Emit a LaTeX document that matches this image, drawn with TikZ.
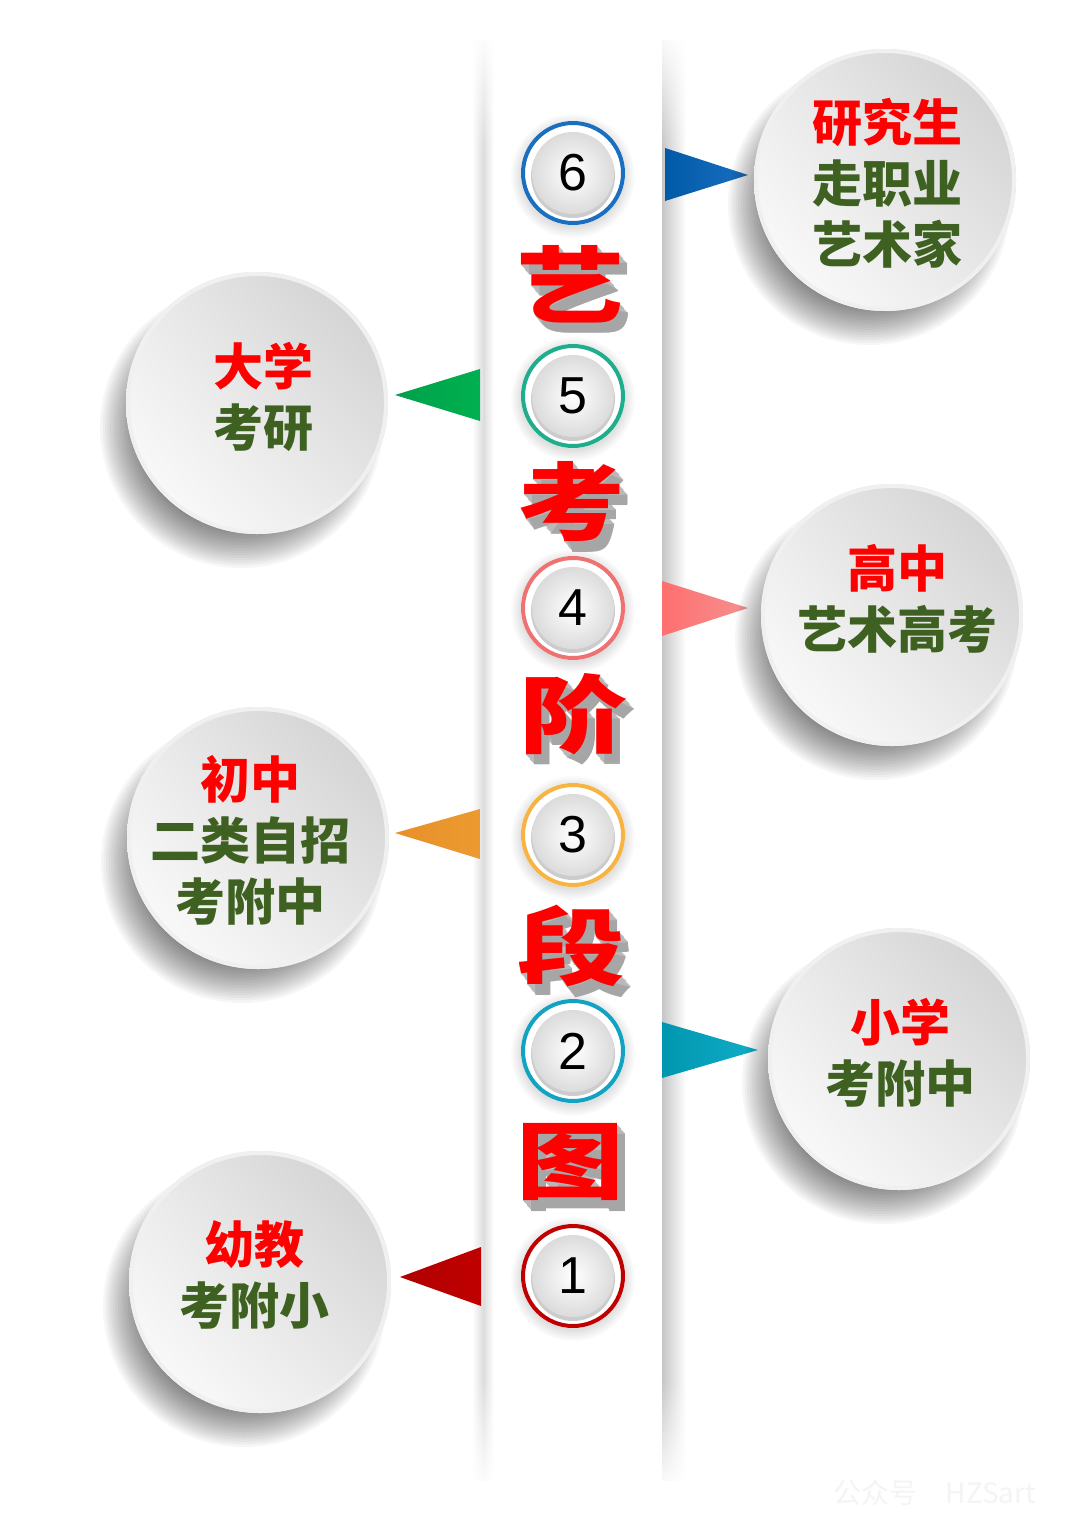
\documentclass[tikz,border=0pt]{standalone}
\usepackage{fontspec}
\usepackage{graphicx}
\setmainfont{Liberation Sans}
\newfontfamily\cjk{Noto Sans CJK SC}
\usetikzlibrary{fadings,shadings}
\definecolor{tgreen}{HTML}{3E6121}
\definecolor{tred}{HTML}{FF0000}
\definecolor{rblue}{HTML}{1A6FC0}
\definecolor{rgreen}{HTML}{1EAE8C}
\definecolor{rpink}{HTML}{EE7272}
\definecolor{rorange}{HTML}{F8B443}
\definecolor{rteal}{HTML}{13A3C2}
\definecolor{rdred}{HTML}{C00000}
\definecolor{pblueA}{HTML}{005AA8}
\definecolor{pgreenA}{HTML}{00A04A}
\definecolor{pgreenB}{HTML}{00B050}
\definecolor{ppinkA}{HTML}{FF6F6F}
\definecolor{ppinkB}{HTML}{F59090}
\definecolor{porA}{HTML}{E8902A}
\definecolor{porB}{HTML}{EB9A30}
\definecolor{ptealA}{HTML}{0096B0}
\definecolor{ptealB}{HTML}{12ADC6}
\definecolor{predA}{HTML}{B00000}
\tikzfading[name=wtop, top color=transparent!0, bottom color=transparent!100]
\tikzfading[name=wbot, top color=transparent!100, bottom color=transparent!0]
\newcommand\bigfont{\cjk\bfseries\fontsize{98}{98}\selectfont}
\newcommand\bubtext{\cjk\bfseries\fontsize{50}{61}\selectfont}
\newcommand\bubble[3]{%
  \foreach \k in {0,...,15} \fill[black,opacity=0.035] (#2-16,#3+24) circle ({141-\k*2.5});
  \shade[upper right=gray!40, upper left=gray!16, lower left=white, lower right=gray!18] (#2,#3) circle (131);
  \draw[white!88!gray, line width=4] (#2,#3) circle (129);
  \node[circle, minimum size=262, inner sep=0] (#1) at (#2,#3) {};
}
\newcommand\numc[4]{%
  \foreach \k in {0,...,7} \fill[black,opacity=0.015] (573,#2+3) circle ({62-\k*1.5});
  \fill[white] (573,#2) circle (52);
  \draw[#3, line width=4] (573,#2) circle (50);
  \fill[gray!40] (573,#2+3) circle (42);
  \shade[inner color=white, outer color=gray!28] (573,#2) circle (41);
  \node[font=\fontsize{52}{52}\selectfont] (#1) at (573,#2) {#4};
}
\newcommand\bigchar[4]{%
  \foreach \i in {1,...,10} \node[text=gray!55!white, font=\bigfont] at (#2+\i*0.8,#3+\i) {\scalebox{1.1}[0.86]{#4}};
  \node[text=gray!70, font=\bigfont] at (#2+8.5,#3+10.5) {\scalebox{1.1}[0.86]{#4}};
  \node[text=tred, font=\bigfont] (#1) at (#2,#3) {\scalebox{1.1}[0.86]{#4}};
}
\begin{document}
\begin{tikzpicture}[x=1pt,y=-1pt]
\useasboundingbox (0,0) rectangle (1080,1539);
\fill[white] (0,0) rectangle (1080,1539);
% central strip edges
\shade[left color=white, right color=gray!30] (472,40) rectangle (485,1480);
\shade[left color=gray!22, right color=white] (485,40) rectangle (494,1480);
\shade[left color=gray!45, right color=white] (662,40) rectangle (686,1480);
\fill[white, path fading=wtop] (440,30) rectangle (720,150);
\fill[white, path fading=wbot] (440,1380) rectangle (720,1490);
% pointers
\shade[left color=pblueA, right color=rblue] (665,148) -- (748,175) -- (665,201) -- cycle;
\shade[left color=pgreenA, right color=pgreenB] (395,395) -- (480,369) -- (480,421) -- cycle;
\shade[left color=ppinkA, right color=ppinkB] (662,581) -- (748,608) -- (662,636) -- cycle;
\shade[left color=porA, right color=porB] (395,833) -- (480,809) -- (480,859) -- cycle;
\shade[left color=ptealA, right color=ptealB] (662,1022) -- (758,1050) -- (662,1078) -- cycle;
\shade[left color=predA, right color=rdred] (400,1277) -- (481,1247) -- (481,1306) -- cycle;
% bubbles
\bubble{c6}{885}{180}
\bubble{c5}{257}{403}
\bubble{c4}{892}{615}
\bubble{c3}{258}{838}
\bubble{c2}{899}{1059}
\bubble{c1}{260}{1282}
\node[font=\bubtext, text=tgreen, align=center] (t6) at (887,183) {\textcolor{tred}{研究生}\\走职业\\艺术家};
\node[font=\bubtext, text=tgreen, align=center] (t5) at (263,397) {\textcolor{tred}{大学}\\考研};
\node[font=\bubtext, text=tgreen, align=center] (t4) at (897,599) {\textcolor{tred}{高中}\\艺术高考};
\node[font=\bubtext, text=tgreen, align=center] (t3) at (250,840) {\textcolor{tred}{初中}\\二类自招\\考附中};
\node[font=\bubtext, text=tgreen, align=center] (t2) at (900,1053) {\textcolor{tred}{小学}\\考附中};
\node[font=\bubtext, text=tgreen, align=center] (t1) at (254,1275) {\textcolor{tred}{幼教}\\考附小};
% number circles
\numc{n6}{173}{rblue}{6}
\numc{n5}{396}{rgreen}{5}
\numc{n4}{608}{rpink}{4}
\numc{n3}{835}{rorange}{3}
\numc{n2}{1051}{rteal}{2}
\numc{n1}{1276}{rdred}{1}
% big characters
\bigchar{g1}{570}{284}{艺}
\bigchar{g2}{571}{502}{考}
\bigchar{g3}{573}{714}{阶}
\bigchar{g4}{571}{946}{段}
\bigchar{g5}{570}{1162}{图}
% watermark
\node[text=gray!9, font=\cjk\fontsize{28}{28}\selectfont] (wm) at (935,1493) {公众号\quad HZSart};
\end{tikzpicture}
\end{document}
